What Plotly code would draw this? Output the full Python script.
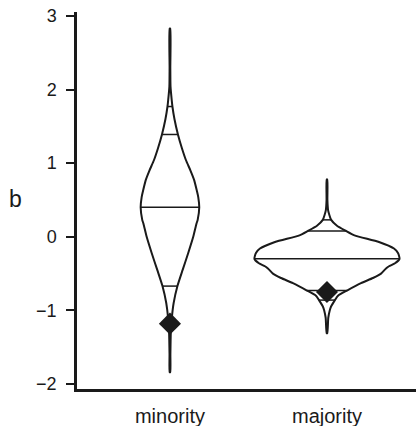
import plotly.graph_objects as go
import numpy as np

categories = ["minority", "majority"]

# violin outline: y value and relative density (half-width)
minority_y = [2.83, 2.30, 2.04, 1.86, 1.77, 1.60, 1.39, 1.20, 1.04, 0.90, 0.77, 0.62, 0.54,
              0.40, 0.23, 0.18, 0.00, -0.22, -0.45, -0.67, -0.90, -1.10, -1.30, -1.60, -1.84]
minority_d = [0.004, 0.005, 0.008, 0.024, 0.034, 0.062, 0.110, 0.166, 0.221, 0.283, 0.334, 0.372, 0.390,
              0.404, 0.382, 0.366, 0.321, 0.252, 0.175, 0.103, 0.051, 0.026, 0.012, 0.006, 0.004]

majority_y = [0.78, 0.50, 0.36, 0.30, 0.23, 0.15, 0.08, 0.02, -0.07, -0.16, -0.22, -0.30,
              -0.36, -0.40, -0.43, -0.50, -0.56, -0.63, -0.73, -0.80, -0.86, -0.95, -1.00, -1.10, -1.31]
majority_d = [0.004, 0.006, 0.016, 0.032, 0.058, 0.138, 0.262, 0.379, 0.717, 0.924, 0.979, 1.000,
              0.938, 0.855, 0.814, 0.745, 0.634, 0.469, 0.276, 0.152, 0.110, 0.055, 0.038, 0.018, 0.004]

minority_quantiles = [1.77, 1.39, 0.40, -0.67, -1.12]
majority_quantiles = [0.23, 0.08, -0.30, -0.73, -0.86]

point_values = [-1.18, -0.75]

yticks = [-2, -1, 0, 1, 2, 3]

MAXHALF = 0.462
INK = "#1a1a1a"

fig = go.Figure()

profiles = [(minority_y, minority_d, minority_quantiles), (majority_y, majority_d, majority_quantiles)]
for i, (ys, ds, qs) in enumerate(profiles):
    ys = np.array(ys)
    hw = np.array(ds) * MAXHALF
    xs = np.concatenate([i + hw, (i - hw)[::-1], [i + hw[0]]])
    yy = np.concatenate([ys, ys[::-1], [ys[0]]])
    fig.add_trace(go.Scatter(x=xs, y=yy, mode="lines", fill="toself", fillcolor="white",
                             line=dict(color=INK, width=2, shape="spline", smoothing=0.6),
                             hoverinfo="skip", showlegend=False))
    asc = np.argsort(ys)
    for q in qs:
        w = np.interp(q, ys[asc], hw[asc])
        fig.add_trace(go.Scatter(x=[i - w, i + w], y=[q, q], mode="lines",
                                 line=dict(color=INK, width=1.5),
                                 hoverinfo="skip", showlegend=False))

fig.add_trace(go.Scatter(x=[0, 1], y=point_values, mode="markers",
                         marker=dict(symbol="diamond", size=17, color=INK),
                         showlegend=False))

fig.update_layout(
    width=416, height=426,
    margin=dict(l=77, r=0, t=12, b=37),
    paper_bgcolor="white", plot_bgcolor="white",
    font=dict(family="Liberation Sans, Arial, sans-serif", size=17, color=INK),
    xaxis=dict(range=[-0.592, 1.567], tickvals=[0, 1], ticktext=categories,
               showgrid=False, zeroline=False, showline=True, linewidth=2.5,
               linecolor=INK, ticks="", ticklabelstandoff=7,
               tickfont=dict(size=20)),
    yaxis=dict(range=[-2.068, 3.054], tickvals=yticks, showgrid=False, zeroline=False,
               showline=True, linewidth=2.5, linecolor=INK, ticks="outside",
               ticklen=8, tickwidth=2, tickcolor=INK, ticklabelstandoff=6,
               tickfont=dict(size=18)),
    annotations=[dict(text="b", xref="paper", yref="paper", x=0, y=0.5,
                      xanchor="center", yanchor="middle", xshift=-62, yshift=2,
                      showarrow=False, font=dict(size=23))],
)

fig.write_html("out.html", config={"displayModeBar": False},
               post_script="document.body.style.margin='0';")
